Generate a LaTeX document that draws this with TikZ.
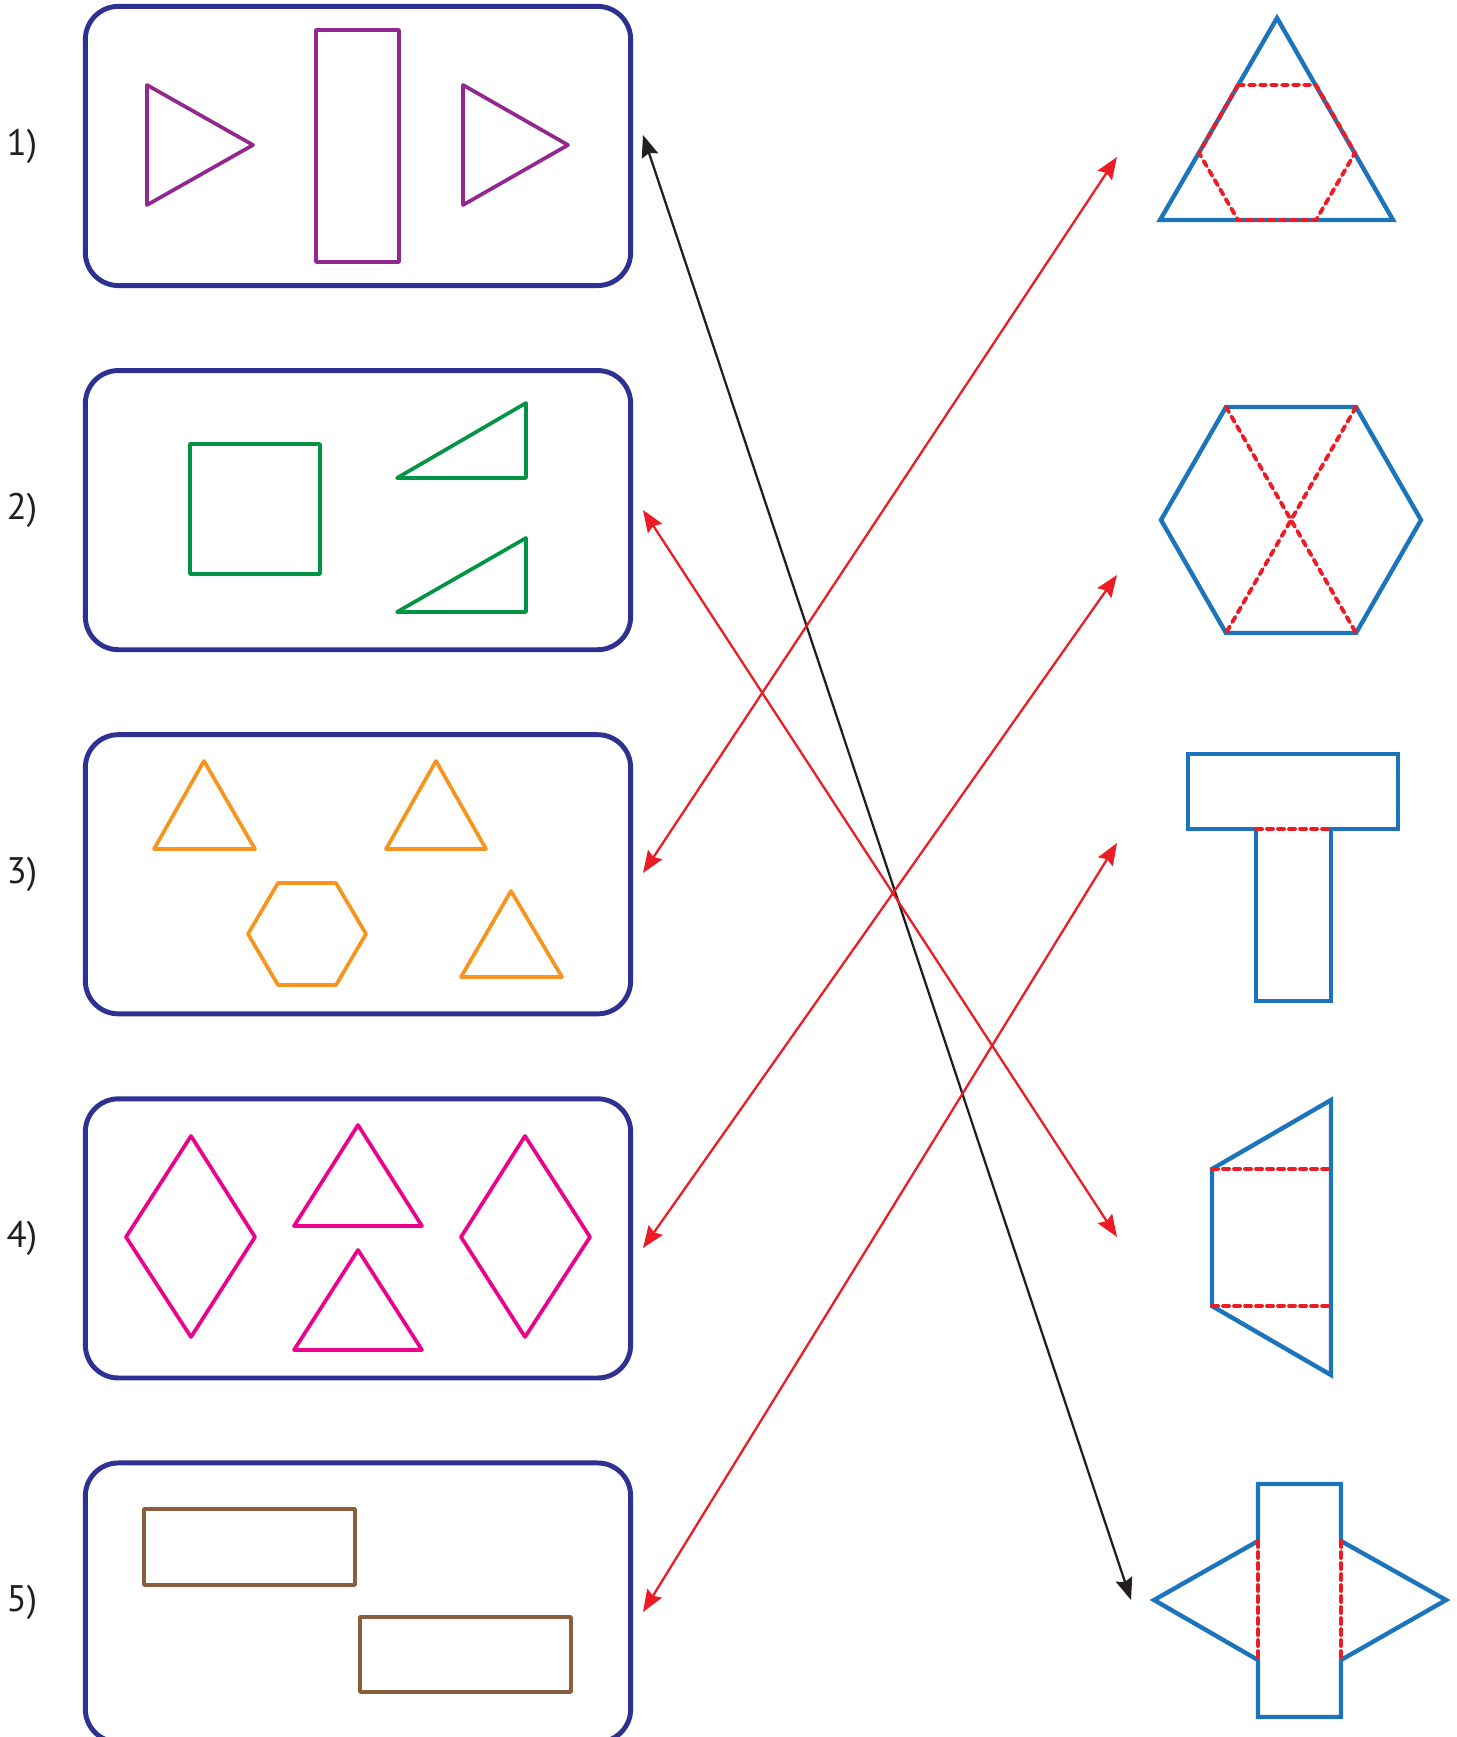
\documentclass[tikz,border=0pt]{standalone}
\usepackage{fontspec}
\setmainfont{PT Sans}
\usepackage{xcolor}
\usepackage{tikz}
\usetikzlibrary{positioning,arrows.meta,calc}
\definecolor{boxblue}{RGB}{46,49,146}
\definecolor{violet}{RGB}{146,39,143}
\definecolor{leaf}{RGB}{0,148,68}
\definecolor{amber}{RGB}{247,148,29}
\definecolor{pink}{RGB}{236,0,140}
\definecolor{cocoa}{RGB}{139,94,60}
\definecolor{netblue}{RGB}{28,117,188}
\definecolor{foldred}{RGB}{237,28,36}
\definecolor{ink}{RGB}{35,31,32}

\begin{document}
\begin{tikzpicture}[x=0.01cm, y=-0.01cm,
    box/.style={rectangle, draw=boxblue, line width=1.4pt, rounded corners=0.33cm, minimum width=5.45cm, minimum height=2.79cm},
    num/.style={inner sep=0pt, font=\fontsize{10.5}{12}\selectfont, text=ink},
    fig/.style={line width=1.05pt, line join=round},
    net/.style={draw=netblue, line width=1.25pt},
    fold/.style={draw=foldred, line width=1.1pt, dash pattern=on 0.06cm off 0.05cm, line cap=round},
    arr/.style={<->, >={Stealth[length=0.22cm, width=0.17cm, inset=0.03cm]}, line width=0.65pt}
  ]
    \useasboundingbox (0,0) rectangle (1456,1737);
    \node[box] (b1) at (358,146) {};
    \node[box, below=0.8cm of b1] (b2) {};
    \node[box, below=0.8cm of b2] (b3) {};
    \node[box, below=0.8cm of b3] (b4) {};
    \node[box, below=0.8cm of b4] (b5) {};
    \node[num, left=0.45cm of b1] (n1) {1)};
    \node[num, left=0.45cm of b2] (n2) {2)};
    \node[num, left=0.45cm of b3] (n3) {3)};
    \node[num, left=0.45cm of b4] (n4) {4)};
    \node[num, left=0.45cm of b5] (n5) {5)};
    % pieces in the boxes
    \draw[fig, violet] (147,85) -- (147,205) -- (253,145) -- cycle;
    \draw[fig, violet] (316,30) rectangle (399,262);
    \draw[fig, violet] (463,85) -- (463,205) -- (568,145) -- cycle;
    \draw[fig, leaf] (190,444) rectangle (320,574);
    \draw[fig, leaf] (397,478) -- (526,403) -- (526,478) -- cycle;
    \draw[fig, leaf] (397,612) -- (526,538) -- (526,612) -- cycle;
    \draw[fig, amber] (154,849) -- (204,761) -- (255,849) -- cycle;
    \draw[fig, amber] (386,849) -- (436,761) -- (486,849) -- cycle;
    \draw[fig, amber] (461,977) -- (511,891) -- (562,977) -- cycle;
    \draw[fig, amber] (248,934) -- (278,883) -- (336,883) -- (366,934) -- (336,985) -- (278,985) -- cycle;
    \draw[fig, pink] (191,1136) -- (255,1237) -- (191,1337) -- (126,1237) -- cycle;
    \draw[fig, pink] (358,1125) -- (422,1226) -- (294,1226) -- cycle;
    \draw[fig, pink] (358,1250) -- (422,1350) -- (294,1350) -- cycle;
    \draw[fig, pink] (525,1136) -- (590,1237) -- (525,1337) -- (461,1237) -- cycle;
    \draw[fig, cocoa] (144,1509) rectangle (355,1585);
    \draw[fig, cocoa] (360,1617) rectangle (571,1692);
    % nets on the right
    \draw[net] (1277,18) -- (1160,220) -- (1393,220) -- cycle;
    \draw[fold] (1238,85) -- (1316,85) -- (1355,153) -- (1316,220) -- (1238,220) -- (1199,153) -- cycle;
    \draw[net] (1421,520) -- (1356,407) -- (1226,407) -- (1161,520) -- (1226,633) -- (1356,633) -- cycle;
    \draw[fold] (1226,407) -- (1356,633);
    \draw[fold] (1356,407) -- (1226,633);
    \draw[net] (1256,829) -- (1188,829) -- (1188,754) -- (1398,754) -- (1398,829) -- (1331,829) -- (1331,1001) -- (1256,1001) -- cycle;
    \draw[fold] (1256,829) -- (1331,829);
    \draw[net] (1331,1100) -- (1212,1169) -- (1212,1306) -- (1331,1375) -- cycle;
    \draw[fold] (1212,1169) -- (1331,1169);
    \draw[fold] (1212,1306) -- (1331,1306);
    \draw[net] (1258,1541) -- (1258,1484) -- (1341,1484) -- (1341,1541) -- (1446,1600) -- (1341,1660) -- (1341,1717) -- (1258,1717) -- (1258,1660) -- (1154,1600) -- cycle;
    \draw[fold] (1258,1541) -- (1258,1660);
    \draw[fold] (1341,1541) -- (1341,1660);
    % arrow ends
    \coordinate (p1) at (643,135);
    \coordinate (p2) at (643,510);
    \coordinate (p3) at (643,873);
    \coordinate (p4) at (643,1248);
    \coordinate (p5) at (643,1612);
    \coordinate (q1) at (1117,157);
    \coordinate (q2) at (1117,575);
    \coordinate (q3) at (1117,843);
    \coordinate (q4) at (1117,1237);
    \coordinate (q5) at (1131,1600);
    \draw[arr, ink] (p1)--(q5);
    \draw[arr, foldred] (p2)--(q4); \draw[arr, foldred] (p3)--(q1);
    \draw[arr, foldred] (p4)--(q2); \draw[arr, foldred] (p5)--(q3);
  \end{tikzpicture}
\end{document}
